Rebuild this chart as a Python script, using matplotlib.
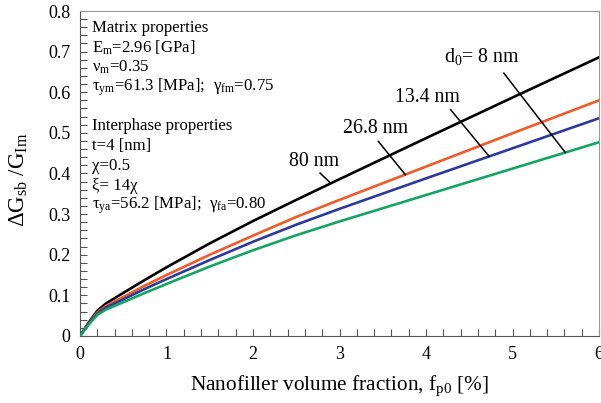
import numpy as np
import matplotlib
matplotlib.use("Agg")
from matplotlib import pyplot as plt
from matplotlib.ticker import MultipleLocator, FuncFormatter

plt.rcParams['font.family'] = ['Liberation Serif', 'DejaVu Serif']
plt.rcParams['mathtext.fontset'] = 'custom'
plt.rcParams['mathtext.rm'] = 'Liberation Serif'
plt.rcParams['mathtext.it'] = 'Liberation Serif:italic'

# volume fraction [%]
fp0 = [0, 0.1, 0.2, 0.3, 0.5, 0.75, 1, 1.5, 2, 2.5, 3, 4, 5, 6]

# dG_sb / G_Im, one curve per particle size (top to bottom)
d_8 = [0, 0.033, 0.062, 0.080, 0.106, 0.138, 0.169, 0.228, 0.283, 0.335, 0.386, 0.487, 0.587, 0.686]
d_13 = [0, 0.031, 0.058, 0.074, 0.096, 0.124, 0.150, 0.200, 0.247, 0.293, 0.335, 0.417, 0.499, 0.580]
d_26 = [0, 0.030, 0.055, 0.070, 0.090, 0.116, 0.140, 0.187, 0.232, 0.274, 0.313, 0.388, 0.462, 0.536]
d_80 = [0, 0.028, 0.052, 0.065, 0.083, 0.106, 0.128, 0.171, 0.211, 0.248, 0.282, 0.347, 0.412, 0.477]

series = [d_8, d_13, d_26, d_80]
colors = ['#000000', '#f05a28', '#2e3a99', '#14a562']
labels = [r'd$_0$= 8 nm', '13.4 nm', '26.8 nm', '80 nm']

fig = plt.figure(figsize=(6.01, 4.03), dpi=100)
ax = fig.add_axes([0.1331, 0.1663, 0.8636, 0.8064])

for ys, c in zip(series, colors):
    ax.plot(fp0, ys, color=c, lw=1.9, solid_joinstyle='round', zorder=3)

# leader lines: start point, x where the line meets a curve, label centre
leaders = [
    (4.90, 0.647, 5.61, (4.647, 0.687)),
    (4.285, 0.557, 4.73, (4.017, 0.588)),
    (3.449, 0.479, 3.76, (3.422, 0.510)),
    (2.775, 0.401, 2.90, (2.705, 0.430)),
]
# each leader ends on a different curve (bottom one for the first label)
for (x0, y0, xe, pos), ys, lab in zip(leaders, series[::-1], labels):
    ye = np.interp(xe, fp0, ys)
    ax.plot([x0, xe], [y0, ye], color='black', lw=1.1, zorder=4)
    ax.text(pos[0], pos[1], lab, fontsize=14.3, ha='center', va='center')

# parameter block
info = [
    'Matrix properties',
    r'E$_\mathrm{m}$=2.96 [GPa]',
    r'ν$_\mathrm{m}$=0.35',
    r'τ$_\mathrm{ym}$=61.3 [MPa];  γ$_\mathrm{fm}$=0.75',
    '',
    'Interphase properties',
    't=4 [nm]',
    'χ=0.5',
    'ξ= 14χ',
    r'τ$_\mathrm{ya}$=56.2 [MPa];  γ$_\mathrm{fa}$=0.80',
]
for i, line in enumerate(info):
    ax.text(0.023, (336 - 28 - 19.7 * i) / 325, line, transform=ax.transAxes,
            fontsize=12.1, ha='left', va='center')

ax.set_xlim(0, 6)
ax.set_ylim(0, 0.8)
ax.xaxis.set_major_locator(MultipleLocator(1))
ax.xaxis.set_minor_locator(MultipleLocator(0.2))
ax.yaxis.set_major_locator(MultipleLocator(0.1))
ax.yaxis.set_minor_locator(MultipleLocator(0.02))
ax.yaxis.set_major_formatter(FuncFormatter(lambda v, p: '%g' % round(v, 2)))
ax.tick_params(which='both', direction='in', length=5, width=0.8,
               color='#555555', top=False, right=False)
ax.tick_params(which='major', labelsize=13, pad=7)

for side in ['left', 'bottom']:
    ax.spines[side].set_color('#555555')
for side in ['top', 'right']:
    ax.spines[side].set_color('#9a9a9a')

ax.set_xlabel(r'Nanofiller volume fraction, f$_\mathrm{p0}$ [%]', fontsize=15.3, labelpad=8)
ax.set_ylabel(r'ΔG$_\mathrm{sb}$ /G$_\mathrm{Im}$', fontsize=16.5)
ax.yaxis.set_label_coords(-0.097, 0.48)

fig.savefig('out.png', dpi=100)
